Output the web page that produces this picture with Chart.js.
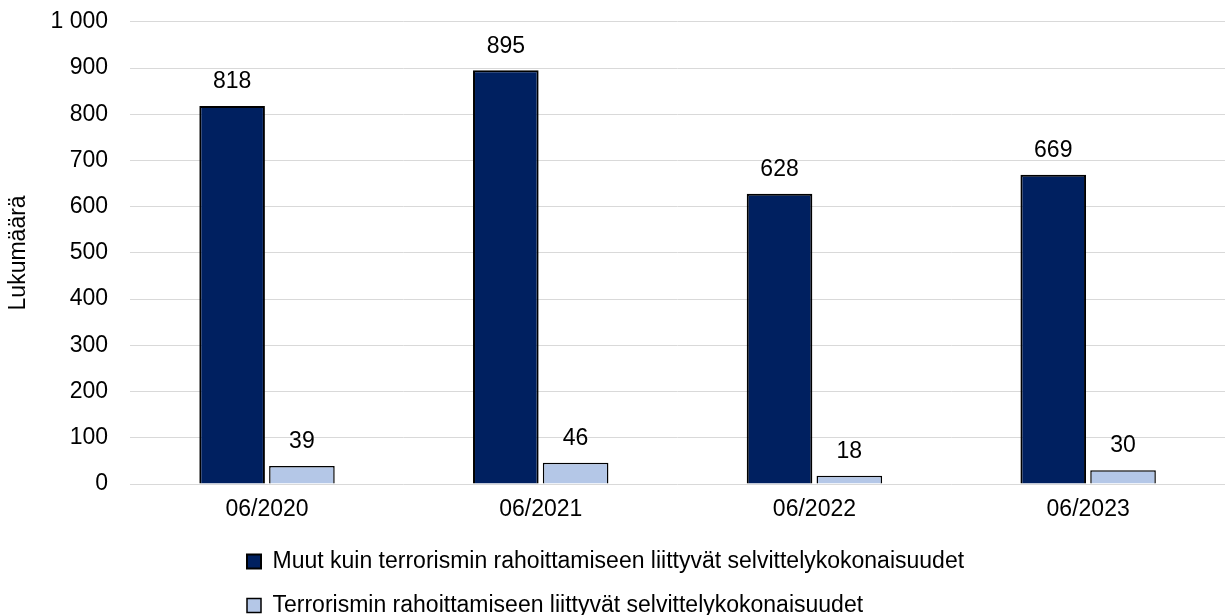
<!DOCTYPE html>
<html>
<head>
<meta charset="utf-8">
<script src="https://cdn.jsdelivr.net/npm/chart.js@4"></script>
<style>
  html, body { margin: 0; padding: 0; background: #fff; }
  #wrap { width: 1225px; height: 615px; }
</style>
</head>
<body>
<div id="wrap"><canvas id="grafica"></canvas></div>
<script>
const kaudet = ['06/2020', '06/2021', '06/2022', '06/2023'];
const muut = [818, 895, 628, 669];
const terrorismi = [39, 46, 18, 30];
const sarjaNimet = [
  'Muut kuin terrorismin rahoittamiseen liittyvät selvittelykokonaisuudet',
  'Terrorismin rahoittamiseen liittyvät selvittelykokonaisuudet'
];
const yAkseliNimi = 'Lukumäärä';

const fontti = 'Liberation Sans, Arial, sans-serif';
const koko = 23;

// arvot pylväiden päälle
const arvoLaput = {
  id: 'arvoLaput',
  afterDatasetsDraw(chart) {
    const ctx = chart.ctx;
    ctx.save();
    ctx.font = `${koko}px ${fontti}`;
    ctx.fillStyle = '#000';
    ctx.textAlign = 'center';
    ctx.textBaseline = 'middle';
    chart.data.datasets.forEach((ds, i) => {
      chart.getDatasetMeta(i).data.forEach((el, j) => {
        ctx.fillText(ds.data[j], el.x, el.y - 24);
      });
    });
    ctx.restore();
  }
};

// selite vasemmalle ja hieman alemmas kuten alkuperäisessä
const seliteSiirto = {
  id: 'seliteSiirto',
  afterLayout(chart) {
    if (!chart.legend) return;
    chart.legend.left = 226;
    chart.legend.top += 12;
  }
};

new Chart(document.getElementById('grafica'), {
  type: 'bar',
  data: {
    labels: kaudet,
    datasets: [
      {
        label: sarjaNimet[0],
        data: muut,
        backgroundColor: '#002060',
        borderColor: '#000',
        borderWidth: 2
      },
      {
        label: sarjaNimet[1],
        data: terrorismi,
        backgroundColor: '#b4c7e7',
        borderColor: '#000',
        borderWidth: 1.5
      }
    ]
  },
  options: {
    responsive: true,
    maintainAspectRatio: false,
    animation: false,
    datasets: {
      bar: { categoryPercentage: 0.51, barPercentage: 0.94 }
    },
    layout: { padding: 0 },
    scales: {
      x: {
        grid: { display: false, drawTicks: false },
        border: { display: false },
        ticks: { color: '#000', font: { family: fontti, size: koko }, padding: 12 },
        afterFit(s) { s.height = 33; }
      },
      y: {
        min: 0,
        max: 1000,
        grid: { color: '#d9d9d9', lineWidth: 1, drawTicks: true, tickLength: 14, tickColor: 'rgba(0,0,0,0)' },
        border: { display: false },
        ticks: {
          stepSize: 100,
          color: '#000',
          padding: 8,
          font: { family: fontti, size: koko },
          callback: v => String(v).replace(/\B(?=(\d{3})+(?!\d))/g, ' ')
        },
        title: {
          display: true,
          text: yAkseliNimi,
          color: '#000',
          padding: { top: 5, bottom: 10 },
          font: { family: fontti, size: koko }
        }
      }
    },
    plugins: {
      legend: {
        position: 'bottom',
        align: 'start',
        labels: {
          color: '#000',
          boxWidth: 14,
          boxHeight: 14,
          padding: 21,
          font: { family: fontti, size: koko }
        }
      },
      tooltip: { enabled: false }
    }
  },
  plugins: [arvoLaput, seliteSiirto]
});
</script>
</body>
</html>
